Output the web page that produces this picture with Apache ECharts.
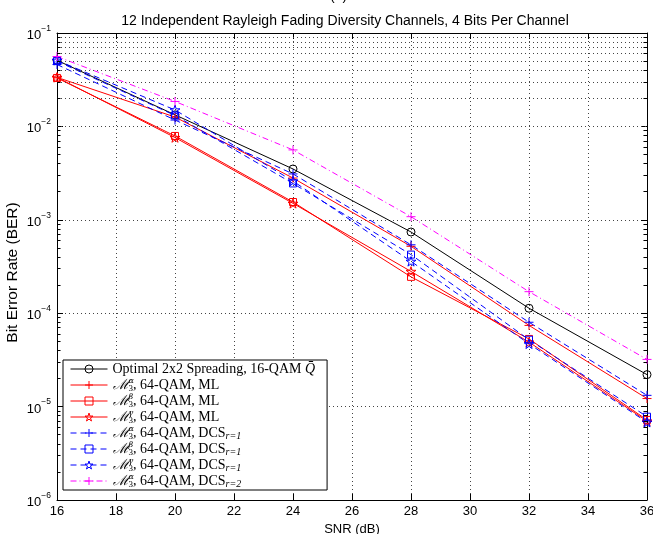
<!DOCTYPE html>
<html>
<head>
<meta charset="utf-8">
<script src="https://cdn.jsdelivr.net/npm/echarts@6/dist/echarts.min.js"></script>
<style>
  html, body { margin: 0; padding: 0; background: #fff; }
  #main { width: 653px; height: 534px; }
</style>
</head>
<body>
<div id="main"></div>
<script>
var snr = [16, 20, 24, 28, 32, 36];
var berOptimal = [0.051, 0.0133, 0.0035, 0.00074, 0.000113, 2.2e-5];
var berMlAlpha = [0.0335, 0.0126, 0.0028, 0.00052, 7.4e-5, 1.22e-5];
var berMlBeta = [0.033, 0.0079, 0.00155, 0.000245, 5.3e-5, 7.2e-6];
var berMlGamma = [0.0335, 0.0076, 0.0015, 0.00028, 4.9e-5, 7.0e-6];
var berDcsAlpha = [0.046, 0.0117, 0.0031, 0.00054, 8.0e-5, 1.32e-5];
var berDcsBeta = [0.05, 0.0131, 0.00245, 0.000424, 5.2e-5, 7.8e-6];
var berDcsGamma = [0.051, 0.015, 0.0026, 0.000359, 4.7e-5, 6.8e-6];
var berDcsAlpha2 = [0.056, 0.0185, 0.0056, 0.00108, 0.00017, 3.2e-5];

var seriesNames = ['opt', 'mlA', 'mlB', 'mlG', 'dcsA', 'dcsB', 'dcsG', 'dcs2A'];
var legendText = {
    opt: 'Optimal 2x2 Spreading, 16-QAM {q|Q̄}',
    mlA: '{m|ℳ}{sup|α}{sub|3}, 64-QAM, ML',
    mlB: '{m|ℳ}{sup|β}{sub|3}, 64-QAM, ML',
    mlG: '{m|ℳ}{sup|γ}{sub|3}, 64-QAM, ML',
    dcsA: '{m|ℳ}{sup|α}{sub|3}, 64-QAM, DCS{r|r=1}',
    dcsB: '{m|ℳ}{sup|β}{sub|3}, 64-QAM, DCS{r|r=1}',
    dcsG: '{m|ℳ}{sup|γ}{sub|3}, 64-QAM, DCS{r|r=1}',
    dcs2A: '{m|ℳ}{sup|α}{sub|3}, 64-QAM, DCS{r|r=2}'
};

var PLUS = 'path://M5 0L5 10M0 5L10 5';
var STAR = 'path://M50 0L61.23 34.55L97.55 34.55L68.17 55.9L79.39 90.45L50 69.1L20.61 90.45L31.83 55.9L2.45 34.55L38.77 34.55Z';

function pairs(ys) {
    return snr.map(function (x, i) { return [x, ys[i]]; });
}

function makeSeries(name, ys, color, lineType, symbol, size) {
    return {
        name: name,
        type: 'line',
        data: pairs(ys),
        symbol: symbol,
        symbolSize: size,
        symbolKeepAspect: true,
        showAllSymbol: true,
        lineStyle: { color: color, width: 1, type: lineType },
        itemStyle: { color: 'rgba(0,0,0,0)', borderColor: color, borderWidth: 1 },
        emphasis: { disabled: true },
        z: 3
    };
}

// minor grid values on the log axis
var minorVals = [];
for (var e = -6; e < -1; e++) {
    for (var k = 2; k <= 9; k++) {
        minorVals.push(k * Math.pow(10, e));
    }
}
var minorGrid = minorVals.map(function (v) { return { yAxis: v }; });
var minorTicks = [];
minorVals.forEach(function (v) {
    minorTicks.push([{ coord: [16, v] }, { coord: [16.12, v] }]);
    minorTicks.push([{ coord: [35.88, v] }, { coord: [36, v] }]);
});

var sup = ['−6', '−5', '−4', '−3', '−2', '−1'];

var myChart = echarts.init(document.getElementById('main'), null, { renderer: 'canvas' });

var option = {
    animation: false,
    backgroundColor: '#fff',
    title: {
        text: '12 Independent Rayleigh Fading Diversity Channels, 4 Bits Per Channel',
        left: 340,
        top: 9,
        textAlign: 'center',
        textStyle: { fontFamily: 'Liberation Sans', fontSize: 14, fontWeight: 'normal', color: '#000' }
    },
    graphic: [{
        type: 'text',
        left: 330,
        top: -11,
        style: { text: '(a)', font: '14px Liberation Sans', fill: '#000' }
    }],
    grid: { left: 57, right: 6, top: 33, bottom: 34, outerBoundsMode: 'none' },
    legend: {
        data: seriesNames,
        orient: 'vertical',
        left: 63,
        top: 360,
        padding: [1, 12, 1, 7],
        itemGap: 0,
        itemWidth: 37,
        itemHeight: 10,
        backgroundColor: '#fff',
        borderColor: '#000',
        borderWidth: 1,
        selectedMode: false,
        lineStyle: { width: 1 },
        itemStyle: { color: 'rgba(0,0,0,0)', borderWidth: 1 },
        formatter: function (name) { return legendText[name]; },
        textStyle: {
            fontFamily: 'Liberation Serif',
            fontSize: 14,
            color: '#000',
            lineHeight: 16,
            rich: {
                m: { fontFamily: 'DejaVu Serif', fontSize: 14, fontStyle: 'italic', lineHeight: 16 },
                sup: { fontFamily: 'DejaVu Serif', fontSize: 8, fontStyle: 'italic', width: 0, verticalAlign: 'top', lineHeight: 16 },
                sub: { fontFamily: 'Liberation Serif', fontSize: 9, verticalAlign: 'bottom', lineHeight: 16 },
                r: { fontFamily: 'Liberation Serif', fontSize: 10, fontStyle: 'italic', verticalAlign: 'bottom', lineHeight: 16 },
                q: { fontFamily: 'Liberation Serif', fontSize: 14, fontStyle: 'italic', lineHeight: 16 }
            }
        }
    },
    xAxis: [{
        type: 'value',
        min: 16,
        max: 36,
        interval: 2,
        name: 'SNR (dB)',
        nameLocation: 'middle',
        nameGap: 20,
        nameTextStyle: { fontFamily: 'Liberation Sans', fontSize: 13, color: '#000' },
        axisLine: { lineStyle: { color: '#000', width: 1 } },
        axisTick: { inside: true, length: 6, lineStyle: { color: '#000' } },
        axisLabel: { fontFamily: 'Liberation Sans', fontSize: 13, color: '#000', margin: 5 },
        splitLine: { show: true, lineStyle: { color: '#444', type: [1, 3], width: 1 } }
    }, {
        type: 'value',
        position: 'top',
        min: 16,
        max: 36,
        interval: 2,
        axisLine: { lineStyle: { color: '#000', width: 1 } },
        axisTick: { inside: true, length: 6, lineStyle: { color: '#000' } },
        axisLabel: { show: false },
        splitLine: { show: false }
    }],
    yAxis: [{
        type: 'log',
        logBase: 10,
        min: 1e-6,
        max: 1e-1,
        name: 'Bit Error Rate (BER)',
        nameLocation: 'middle',
        nameGap: 36,
        nameMoveOverlap: false,
        nameTextStyle: { fontFamily: 'Liberation Sans', fontSize: 15.5, color: '#000', padding: [0, 12, 0, 0] },
        axisLine: { lineStyle: { color: '#000', width: 1 } },
        axisTick: { inside: true, length: 6, lineStyle: { color: '#000' } },
        axisLabel: {
            margin: 6,
            formatter: function (v) {
                var ex = Math.round(Math.log10(v));
                return '{b|10}{s|' + sup[ex + 6] + '}';
            },
            rich: {
                b: { fontFamily: 'Liberation Sans', fontSize: 13, color: '#000', verticalAlign: 'bottom', lineHeight: 18 },
                s: { fontFamily: 'Liberation Sans', fontSize: 8.5, color: '#000', verticalAlign: 'top', lineHeight: 18 }
            }
        },
        splitLine: { show: true, lineStyle: { color: '#444', type: [1, 3], width: 1 } }
    }, {
        type: 'log',
        logBase: 10,
        min: 1e-6,
        max: 1e-1,
        position: 'right',
        axisLine: { lineStyle: { color: '#000', width: 1 } },
        axisTick: { inside: true, length: 6, lineStyle: { color: '#000' } },
        axisLabel: { show: false },
        splitLine: { show: false }
    }],
    series: [
        {
            name: 'minor',
            type: 'line',
            data: [],
            silent: true,
            markLine: {
                silent: true,
                symbol: 'none',
                label: { show: false },
                lineStyle: { color: '#444', type: [1, 3], width: 1 },
                data: minorGrid
            },
            z: 1
        },
        {
            name: 'minorTicks',
            type: 'line',
            data: [],
            silent: true,
            markLine: {
                silent: true,
                symbol: 'none',
                label: { show: false },
                lineStyle: { color: '#000', type: 'solid', width: 1 },
                data: minorTicks
            },
            z: 2
        },
        makeSeries('opt', berOptimal, '#000000', 'solid', 'circle', 8),
        makeSeries('mlA', berMlAlpha, '#ff0000', 'solid', PLUS, 9),
        makeSeries('mlB', berMlBeta, '#ff0000', 'solid', 'rect', 7),
        makeSeries('mlG', berMlGamma, '#ff0000', 'solid', STAR, 10),
        makeSeries('dcsA', berDcsAlpha, '#0000ff', [6, 4], PLUS, 9),
        makeSeries('dcsB', berDcsBeta, '#0000ff', [6, 4], 'rect', 7),
        makeSeries('dcsG', berDcsGamma, '#0000ff', [6, 4], STAR, 10),
        makeSeries('dcs2A', berDcsAlpha2, '#ff00ff', [6, 3, 1, 3], PLUS, 9)
    ]
};

myChart.setOption(option);
</script>
</body>
</html>
